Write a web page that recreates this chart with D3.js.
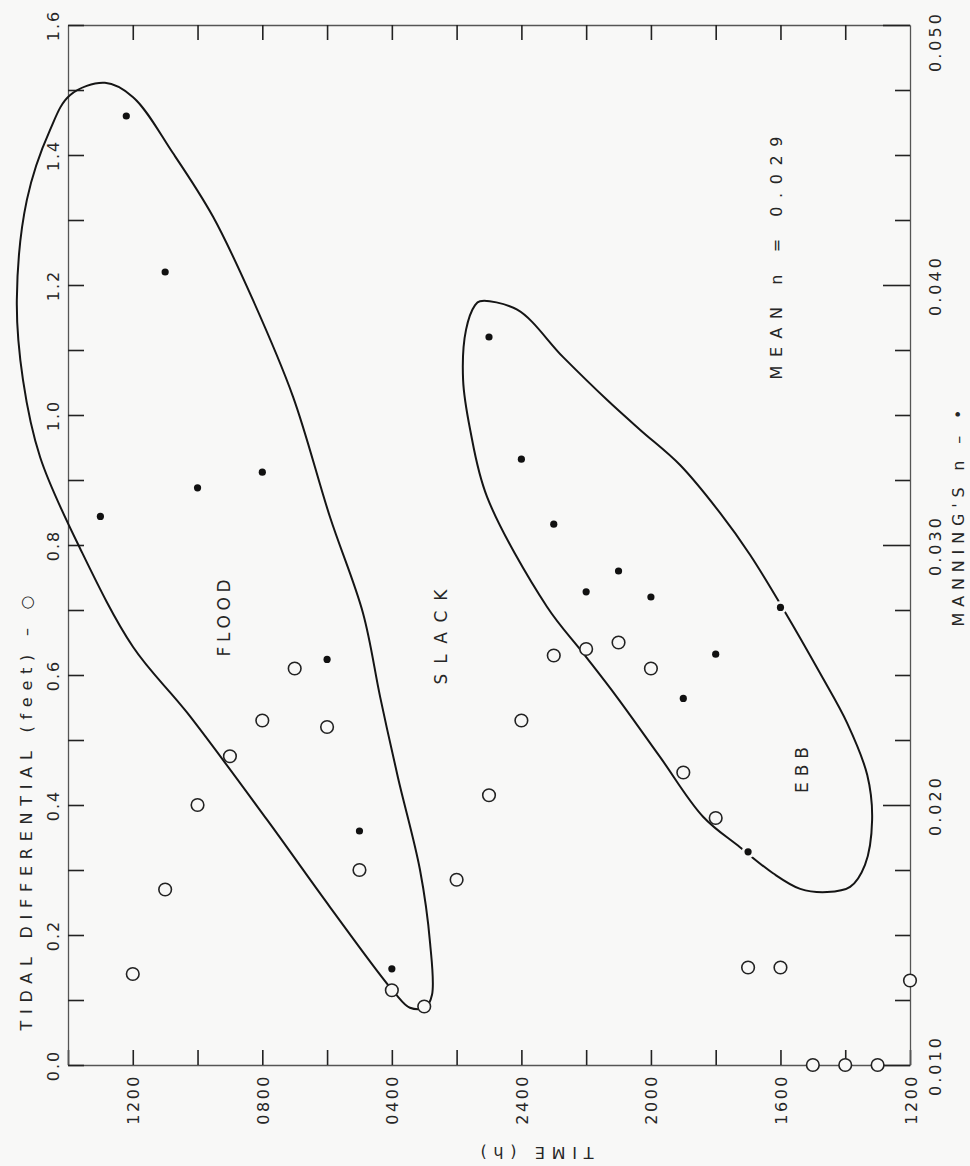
<!DOCTYPE html>
<html>
<head>
<meta charset="utf-8">
<script src="https://cdn.jsdelivr.net/npm/d3@7"></script>
<style>
body { margin: 0; background: #f8f8f7; }
svg { display: block; }
text { font-family: "DejaVu Sans", sans-serif; fill: #262626; }
</style>
</head>
<body>
<svg id="chart" width="970" height="1166"></svg>
<script>
// time is hours after 1200 on the first day, the axis runs right to left
var tidalHours = d3.range(0, 25)
var tidalDiff = [0.13, 0, 0, 0, 0.15, 0.15, 0.38, 0.45, 0.61, 0.65, 0.64, 0.63, 0.53,
    0.415, 0.285, 0.09, 0.115, 0.30, 0.52, 0.61, 0.53, 0.475, 0.40, 0.27, 0.14]

var manningHours = [4, 5, 6, 7, 8, 9, 10, 11, 12, 13, 16, 17, 18, 20, 22, 23, 24.2, 25]
var manningN = [0.0276, 0.0182, 0.0258, 0.0241, 0.0280, 0.0290, 0.0282, 0.0308, 0.0333,
    0.0380, 0.0137, 0.0190, 0.0256, 0.0328, 0.0322, 0.0405, 0.0465, 0.0311]

// hand drawn envelopes, [hours, feet]
var floodEnvelope = [[24.86, 1.511], [23.99, 1.489], [22.76, 1.403], [21.52, 1.305], [20.29, 1.177],
    [19.05, 1.028], [17.91, 0.843], [16.89, 0.695], [16.36, 0.566], [15.81, 0.442], [15.13, 0.300],
    [14.82, 0.188], [14.76, 0.108], [14.97, 0.088], [15.44, 0.088], [15.93, 0.112], [17.91, 0.243],
    [19.85, 0.377], [22.32, 0.542], [23.99, 0.643], [25.63, 0.795], [26.86, 0.935], [27.39, 1.054],
    [27.58, 1.177], [27.27, 1.331], [26.56, 1.438], [25.94, 1.492]]
var ebbEnvelope = [[13.28, 1.175], [12.13, 1.162], [10.71, 1.089], [9.35, 1.023], [8.33, 0.977],
    [7.10, 0.923], [5.86, 0.849], [4.94, 0.785], [3.86, 0.697], [2.78, 0.603], [1.94, 0.526],
    [1.32, 0.446], [1.17, 0.377], [1.39, 0.308], [1.85, 0.274], [2.56, 0.266], [3.39, 0.271],
    [4.23, 0.295], [5.25, 0.335], [6.39, 0.382], [7.72, 0.474], [9.05, 0.566], [10.1, 0.634],
    [11.21, 0.705], [13.06, 0.874], [13.58, 0.977], [13.80, 1.054], [13.71, 1.131], [13.43, 1.169]]

var timeTickHours = [0, 4, 8, 12, 16, 20, 24]
var timeTickLabels = ["1200", "1600", "2000", "2400", "0400", "0800", "1200"]
var feetTicks = [0, 0.2, 0.4, 0.6, 0.8, 1.0, 1.2, 1.4, 1.6]
var feetTickLabels = ["0.0", "0.2", "0.4", "0.6", "0.8", "1.0", "1.2", "1.4", "1.6"]
var nTicks = [0.010, 0.020, 0.030, 0.040, 0.050]
var nTickLabels = ["0.010", "0.020", "0.030", "0.040", "0.050"]

var bg = '#f8f8f7'
var svg = d3.select('#chart')
svg.append('rect').attr('width', 970).attr('height', 1166).attr('fill', bg)

var plotLeft = 68, plotRight = 910, plotTop = 25, plotBottom = 1065
var x = d3.scaleLinear().domain([26, 0]).range([plotLeft, plotRight])
var yFeet = d3.scaleLinear().domain([0, 1.6]).range([plotBottom, plotTop])
var yN = d3.scaleLinear().domain([0.010, 0.050]).range([plotBottom, plotTop])

function lookup(ticks, labels, d) {
    for (var i = 0; i < ticks.length; i++) {
        if (Math.abs(ticks[i] - d) < 1e-6) return labels[i]
    }
    return ''
}

// bottom time axis
var gb = svg.append('g')
    .attr('transform', 'translate(0,' + plotBottom + ')')
    .call(d3.axisBottom(x).tickValues(d3.range(0, 27, 2)).tickSizeInner(-15).tickSizeOuter(0)
        .tickFormat(d => lookup(timeTickHours, timeTickLabels, d)))
gb.selectAll('text')
    .attr('y', 0).attr('dy', 0)
    .attr('text-anchor', 'end')
    .attr('transform', 'translate(6,9) rotate(-90)')
    .style('font-size', '16px').style('letter-spacing', '2.5px')

// top axis, ticks only
svg.append('g')
    .attr('transform', 'translate(0,' + plotTop + ')')
    .call(d3.axisTop(x).tickValues(d3.range(2, 25, 2)).tickSizeInner(-15).tickSizeOuter(0).tickFormat(''))

// left axis, tidal differential
var gl = svg.append('g')
    .attr('transform', 'translate(' + plotLeft + ',0)')
    .call(d3.axisLeft(yFeet).tickValues(d3.range(0, 17).map(i => i / 10)).tickSizeInner(-16).tickSizeOuter(0)
        .tickFormat(d => lookup(feetTicks, feetTickLabels, d)))
gl.selectAll('text')
    .attr('x', 0).attr('dy', 0).attr('y', 0)
    .attr('text-anchor', 'middle')
    .attr('transform', 'translate(-9,0) rotate(-90)')
    .style('font-size', '16px').style('letter-spacing', '2px')
    .style('paint-order', 'stroke').style('stroke', bg).style('stroke-width', '5px')

// right axis, Manning's n
var gr = svg.append('g')
    .attr('transform', 'translate(' + plotRight + ',0)')
    .call(d3.axisRight(yN).tickValues(d3.range(0, 17).map(i => 0.010 + i * 0.0025)).tickSizeInner(-15).tickSizeOuter(0)
        .tickFormat(d => lookup(nTicks, nTickLabels, d)))
gr.selectAll('.tick line')
    .attr('x2', d => lookup(nTicks, nTickLabels, d) ? -27 : -15)
gr.selectAll('text')
    .attr('x', 0).attr('dy', 0).attr('y', 0)
    .attr('text-anchor', 'middle')
    .attr('transform', d => 'translate(31,' + (d > 0.0499 ? 16 : 0) + ') rotate(-90)')
    .style('font-size', '16px').style('letter-spacing', '3px')

svg.selectAll('.domain').attr('stroke', '#555').attr('stroke-width', 1.3)
svg.selectAll('.tick line').attr('stroke', '#222').attr('stroke-width', 1.6)

// envelopes
var envLine = d3.line()
    .x(d => x(d[0]))
    .y(d => yFeet(d[1]))
    .curve(d3.curveCatmullRomClosed.alpha(0.5))
svg.selectAll('.envelope')
    .data([floodEnvelope, ebbEnvelope])
    .enter().append('path')
    .attr('class', 'envelope')
    .attr('d', envLine)
    .attr('fill', 'none')
    .attr('stroke', '#151515')
    .attr('stroke-width', 2)

// tidal differential, open circles
svg.selectAll('.tidal')
    .data(tidalHours)
    .enter().append('circle')
    .attr('class', 'tidal')
    .attr('cx', d => x(d))
    .attr('cy', (d, i) => yFeet(tidalDiff[i]))
    .attr('r', 6.3)
    .attr('fill', bg)
    .attr('stroke', '#222')
    .attr('stroke-width', 1.6)

// Manning's n, filled dots
svg.selectAll('.halo')
    .data(manningHours)
    .enter().append('circle')
    .attr('class', 'halo')
    .attr('cx', d => x(d))
    .attr('cy', (d, i) => yN(manningN[i]))
    .attr('r', 6.5)
    .attr('fill', bg)
svg.selectAll('.manning')
    .data(manningHours)
    .enter().append('circle')
    .attr('class', 'manning')
    .attr('cx', d => x(d))
    .attr('cy', (d, i) => yN(manningN[i]))
    .attr('r', 3.6)
    .attr('fill', '#111')

function label(txt, px, py, angle, len, size) {
    svg.append('text')
        .attr('transform', 'translate(' + px + ',' + py + ') rotate(' + angle + ')')
        .attr('text-anchor', 'middle')
        .attr('textLength', len)
        .attr('lengthAdjust', 'spacing')
        .style('font-size', size + 'px')
        .text(txt)
}

label('TIDAL DIFFERENTIAL (feet) – ○', 32, 813, -90, 435, 16)
label('MANNING\'S n – •', 964, 518, -90, 217, 16)
label('MEAN  n = 0.029', 782, 258, -90, 243, 16)
label('TIME (h)', 537, 1147, 180, 113, 16)
label('FLOOD', 230, 618, -90, 77, 17)
label('SLACK', 447, 637, -90, 95, 17)
label('EBB', 808, 770, -90, 46, 17)
</script>
</body>
</html>
